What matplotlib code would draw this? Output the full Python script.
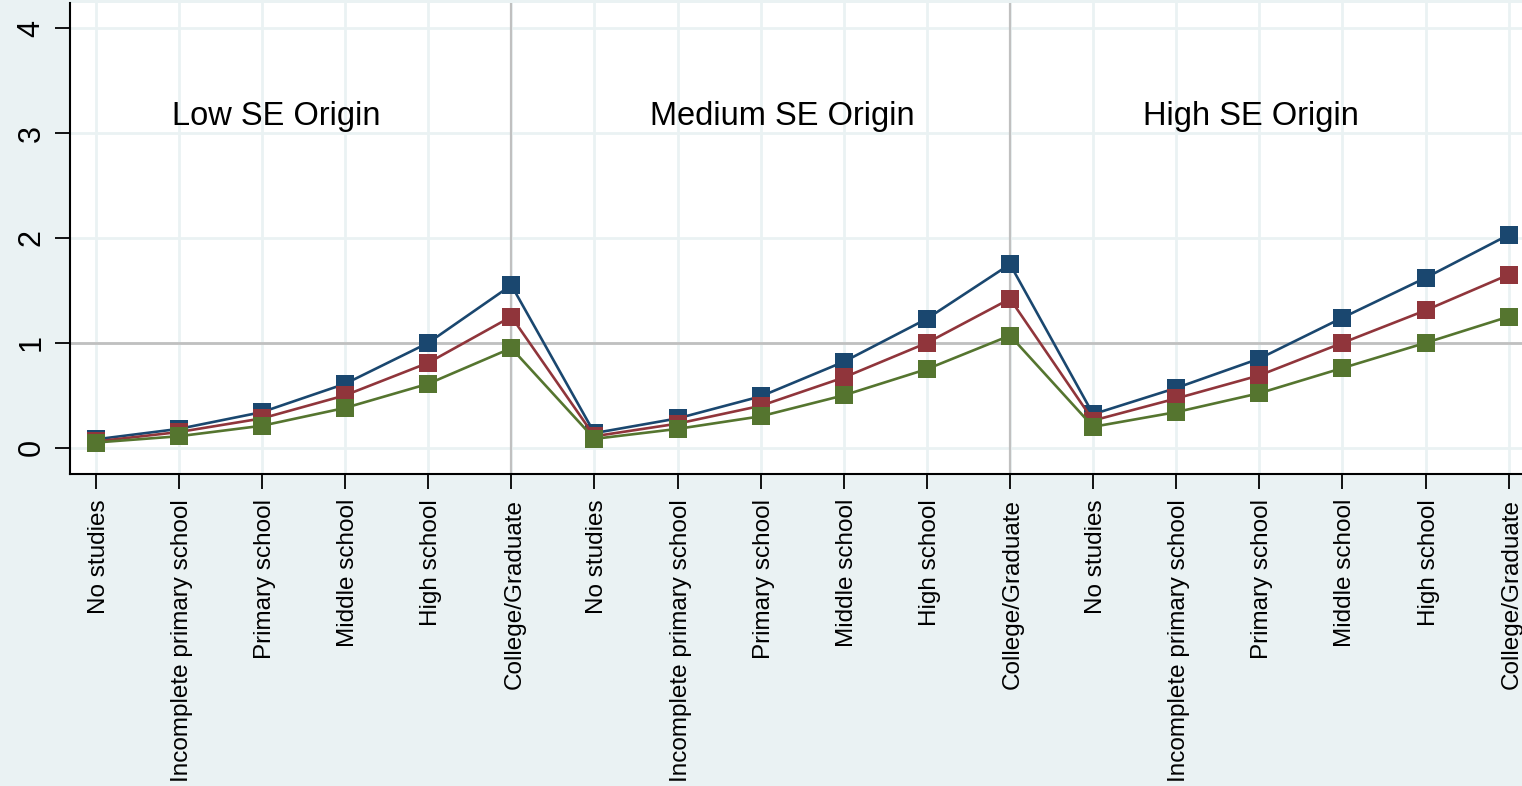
import matplotlib
matplotlib.use("Agg")
import matplotlib.pyplot as plt
from matplotlib.transforms import ScaledTranslation

# Education levels repeated within each socio-economic origin group
levels = ["No studies", "Incomplete primary school", "Primary school",
          "Middle school", "High school", "College/Graduate"]
origins = ["Low SE Origin", "Medium SE Origin", "High SE Origin"]

# Three series, 18 points each (6 levels x 3 origins)
upper = [0.08, 0.18, 0.34, 0.61, 1.00, 1.55,
         0.14, 0.28, 0.49, 0.82, 1.23, 1.75,
         0.32, 0.57, 0.85, 1.24, 1.62, 2.03]
middle = [0.06, 0.15, 0.28, 0.50, 0.81, 1.25,
          0.11, 0.23, 0.40, 0.67, 1.00, 1.42,
          0.26, 0.47, 0.69, 1.00, 1.31, 1.65]
lower = [0.05, 0.11, 0.21, 0.38, 0.61, 0.95,
         0.085, 0.18, 0.30, 0.50, 0.75, 1.07,
         0.20, 0.34, 0.52, 0.76, 1.00, 1.25]

y_ticks = [0, 1, 2, 3, 4]

plt.rcParams["font.family"] = ["Liberation Sans", "DejaVu Sans"]

bg = "#EAF2F3"
fig = plt.figure(figsize=(15.22, 7.86), dpi=100, facecolor=bg)
ax = fig.add_axes([70 / 1522, 312 / 786, 1 - 70 / 1522, (786 - 3 - 312) / 786])
ax.set_facecolor("white")

x_labels = levels * len(origins)
xs = list(range(len(x_labels)))

# light grid
for x in xs:
    ax.axvline(x, color=bg, lw=2.0, zorder=0)
for y in y_ticks:
    ax.axhline(y, color=bg, lw=2.0, zorder=0)

# group separators and reference line at 1
for g in range(1, len(origins)):
    ax.axvline(g * len(levels) - 1, color="#C0C0C0", lw=1.6, zorder=1)
ax.axhline(1, color="#C0C0C0", lw=2.0, zorder=1)

colors = ["#1A476F", "#90353B", "#55752F"]
for vals, c in zip([upper, middle, lower], colors):
    ax.plot(xs, vals, color=c, lw=1.9, marker="s", markersize=12.5,
            markeredgewidth=0, zorder=3)

# group titles
title_x = [2.17, 8.26, 13.9]
for tx, name in zip(title_x, origins):
    ax.text(tx, 3.076, name, ha="center", va="baseline", fontsize=23.5)

ax.set_xlim(-0.31, 17.16)
ax.set_ylim(-0.25, 4.24)
ax.set_xticks(xs)
ax.set_xticklabels(x_labels, rotation=90, fontsize=17.5, va="top")
ax.set_yticks(y_ticks)
ax.set_yticklabels([str(t) for t in y_ticks], rotation=90, fontsize=22, va="center")
ax.tick_params(axis="x", length=11, width=1.3, pad=7)
ax.tick_params(axis="y", length=11, width=1.3, pad=6)

# nudge rotated category labels so the glyphs sit centred on their ticks
shift = ScaledTranslation(3 / 100, 0, fig.dpi_scale_trans)
for lbl in ax.get_xticklabels():
    lbl.set_transform(lbl.get_transform() + shift)

for s in ["top", "right"]:
    ax.spines[s].set_visible(False)
for s in ["left", "bottom"]:
    ax.spines[s].set_linewidth(1.5)
    ax.spines[s].set_color("black")

fig.savefig("out.png", dpi=100, facecolor=bg)
